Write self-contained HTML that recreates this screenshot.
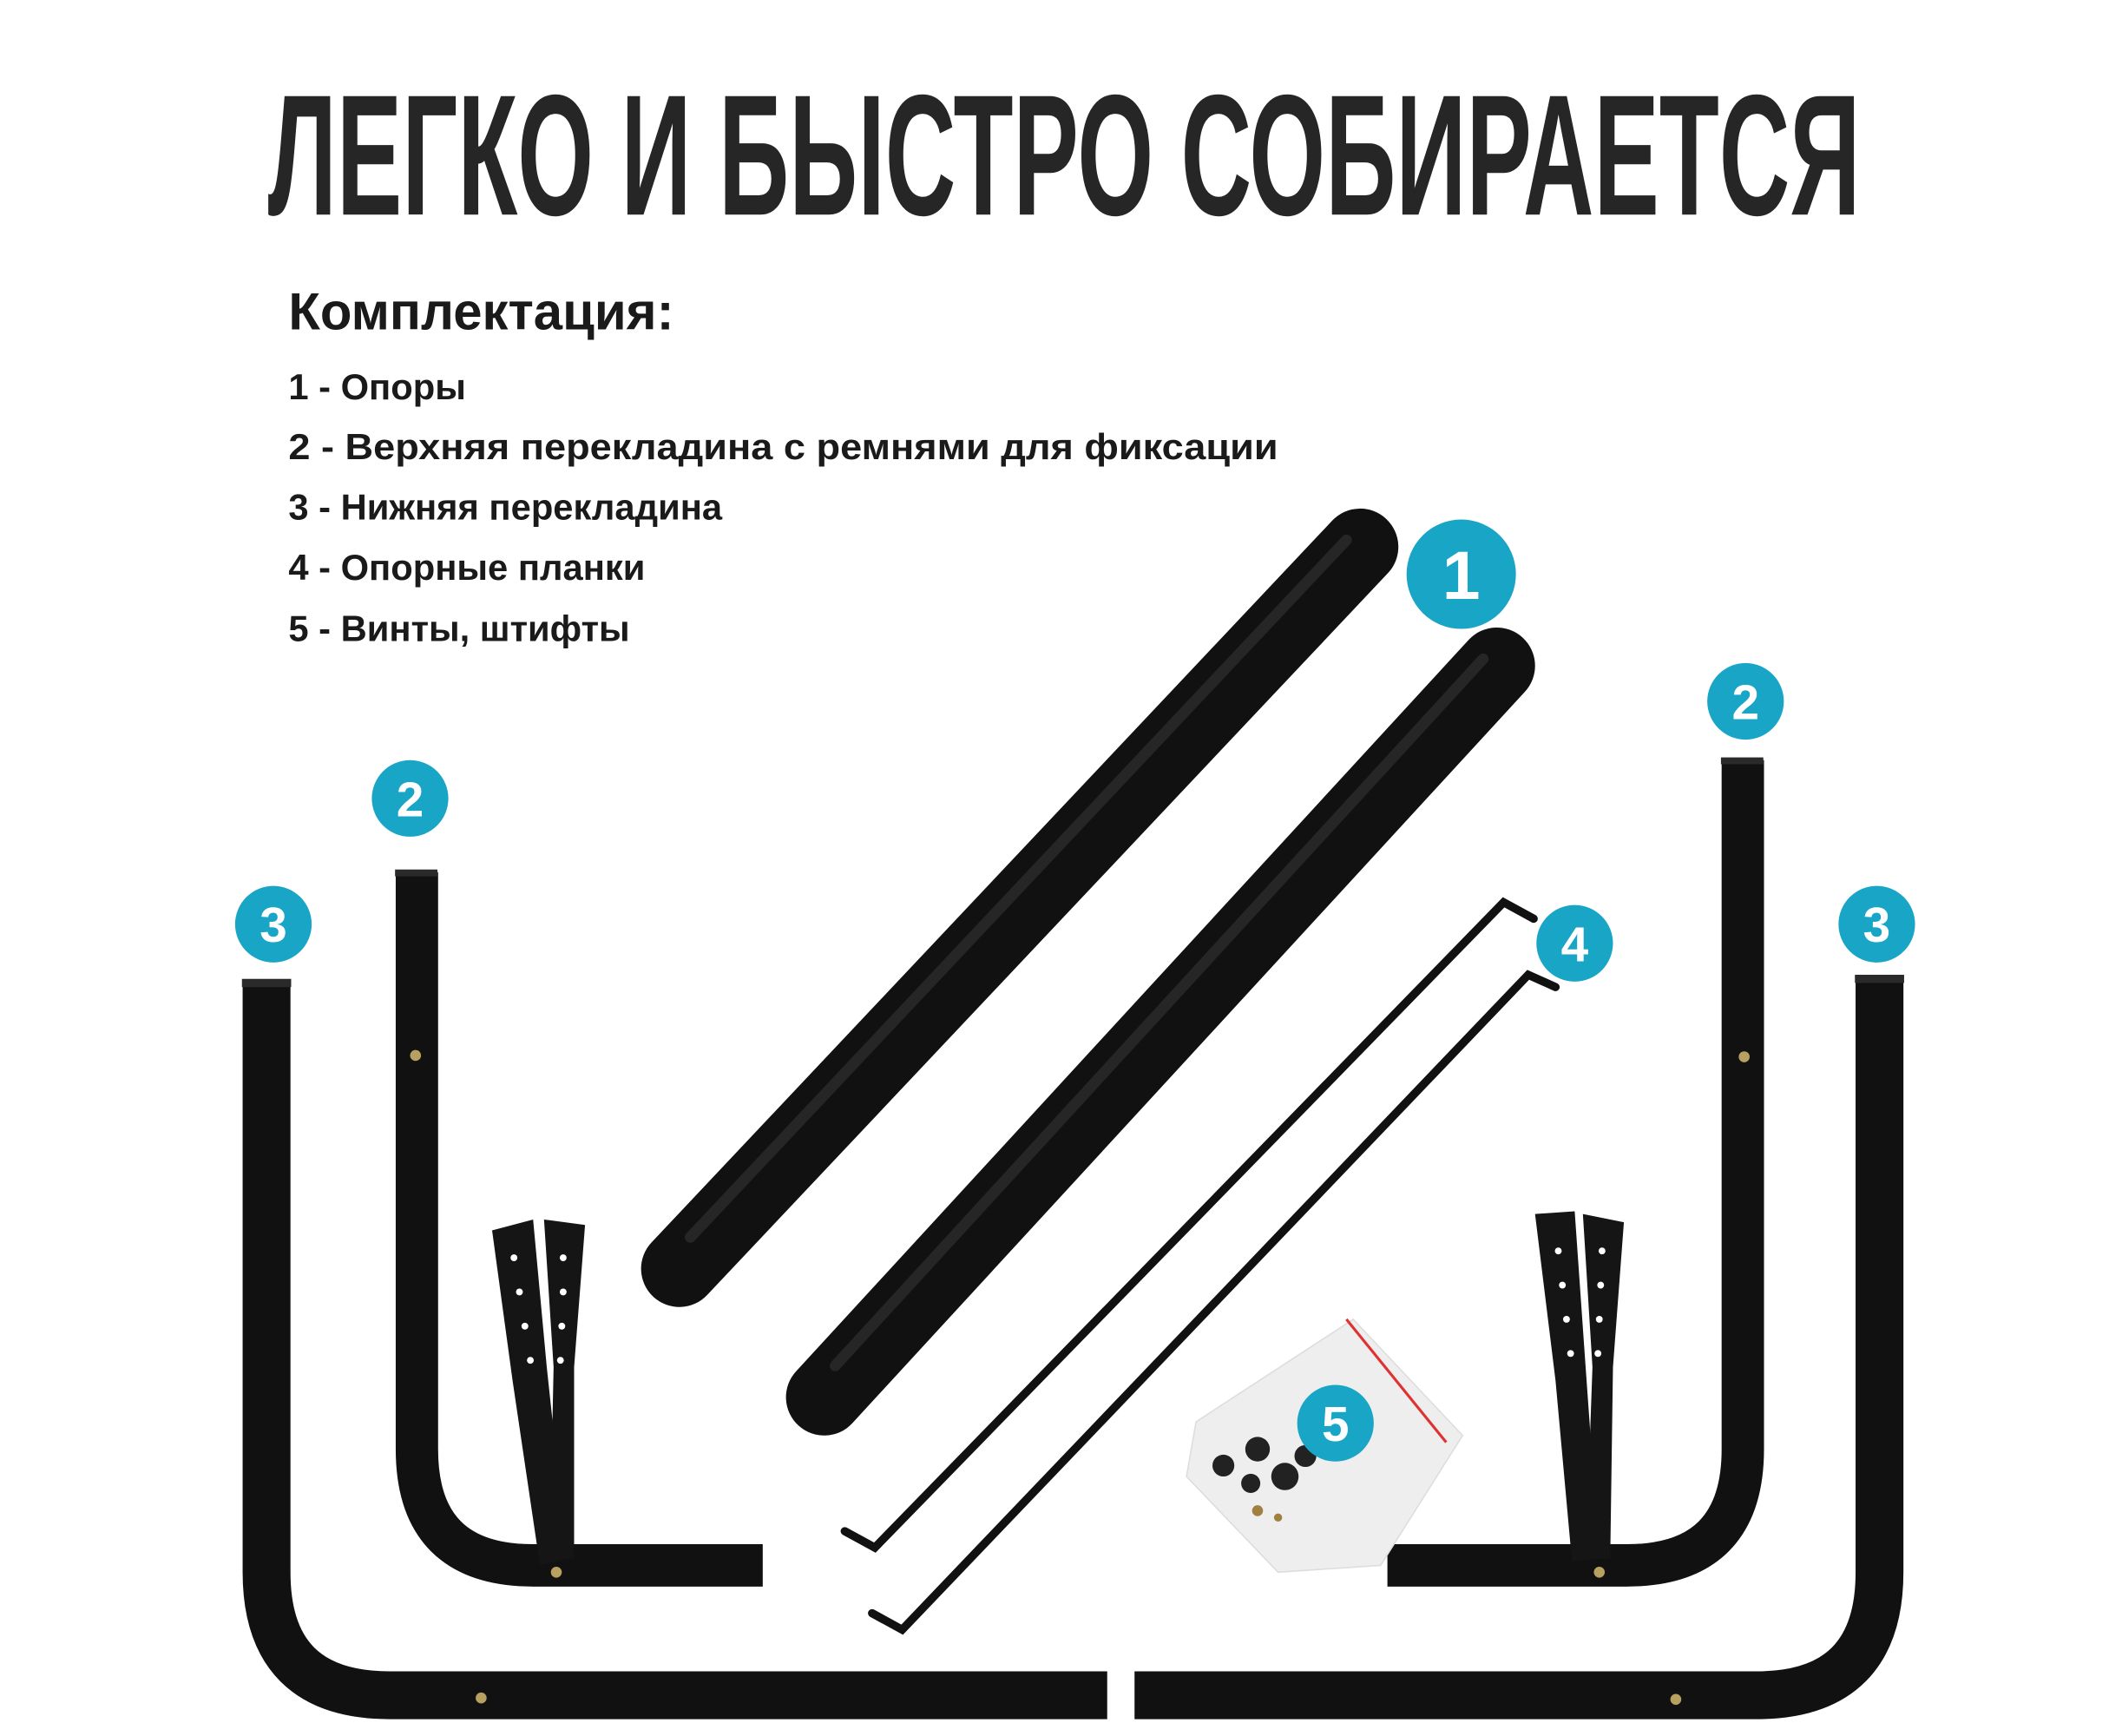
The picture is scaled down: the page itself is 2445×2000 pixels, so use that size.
<!DOCTYPE html>
<html><head><meta charset="utf-8"><style>
html,body{margin:0;padding:0;background:#fff;}
svg{display:block}
</style></head><body>
<svg width="2445" height="2000" viewBox="0 0 1552.4 1269.8" preserveAspectRatio="none" xmlns="http://www.w3.org/2000/svg">
<rect width="1552.4" height="1269.8" fill="#fff"/>
<text x="196" y="157" font-family="Liberation Sans, sans-serif" font-weight="bold" font-size="126" fill="#262626" textLength="1165" lengthAdjust="spacingAndGlyphs">ЛЕГКО И БЫСТРО СОБИРАЕТСЯ</text>
<g font-family="Liberation Sans, sans-serif" fill="#1a1a1a" font-weight="bold">
<text x="211" y="241" font-size="38">Комплектация:</text>
<text x="211" y="292" font-size="26.5">1 - Опоры</text>
<text x="211" y="336" font-size="26.5" textLength="724" lengthAdjust="spacingAndGlyphs">2 - Верхняя перекладина с ремнями для фиксации</text>
<text x="211" y="380" font-size="26.5">3 - Нижняя перекладина</text>
<text x="211" y="424" font-size="26.5">4 - Опорные планки</text>
<text x="211" y="469" font-size="26.5">5 - Винты, штифты</text>
</g>
<g stroke-linecap="round">
<line x1="497" y1="928" x2="995" y2="400" stroke="#111" stroke-width="56"/>
<line x1="603" y1="1022" x2="1095" y2="487" stroke="#111" stroke-width="56"/>
<line x1="505" y1="905" x2="985" y2="395" stroke="#262626" stroke-width="8"/>
<line x1="611" y1="999" x2="1085" y2="482" stroke="#262626" stroke-width="8"/>
</g>
<g fill="none" stroke="#111" stroke-width="6" stroke-linecap="round">
<path d="M618 1120 L640 1132 L1100 660 L1122 672"/>
<path d="M638 1180 L660 1192 L1118 713 L1138 722"/>
</g>
<g fill="none" stroke="#111" stroke-linejoin="round">
<path d="M195 718 L195 1150 Q195 1240 285 1240 L810 1240" stroke-width="35"/>
<path d="M305 638 L305 1060 Q305 1145 390 1145 L558 1145" stroke-width="31"/>
<path d="M1375 715 L1375 1150 Q1375 1240 1285 1240 L830 1240" stroke-width="35"/>
<path d="M1275 556 L1275 1060 Q1275 1145 1190 1145 L1015 1145" stroke-width="31"/>
</g>
<g fill="#151515">
<path d="M360 900 L390 892 L400 1000 L415 1140 L395 1145 L375 1010 Z"/>
<path d="M398 892 L428 896 L420 1000 L420 1140 L402 1140 L405 1000 Z"/>
<path d="M1123 888 L1152 886 L1160 1000 L1170 1140 L1150 1142 L1138 1010 Z"/>
<path d="M1158 888 L1188 894 L1180 1000 L1178 1140 L1160 1140 L1165 1000 Z"/>
</g>
<g fill="#fff">
<circle cx="376" cy="920" r="2.5"/><circle cx="380" cy="945" r="2.5"/><circle cx="384" cy="970" r="2.5"/><circle cx="388" cy="995" r="2.5"/>
<circle cx="412" cy="920" r="2.5"/><circle cx="412" cy="945" r="2.5"/><circle cx="411" cy="970" r="2.5"/><circle cx="410" cy="995" r="2.5"/>
<circle cx="1140" cy="915" r="2.5"/><circle cx="1143" cy="940" r="2.5"/><circle cx="1146" cy="965" r="2.5"/><circle cx="1149" cy="990" r="2.5"/>
<circle cx="1172" cy="915" r="2.5"/><circle cx="1171" cy="940" r="2.5"/><circle cx="1170" cy="965" r="2.5"/><circle cx="1169" cy="990" r="2.5"/>
</g>
<g fill="#b8a060">
<circle cx="304" cy="772" r="4"/><circle cx="352" cy="1242" r="4"/><circle cx="407" cy="1150" r="4"/>
<circle cx="1276" cy="773" r="4"/><circle cx="1226" cy="1243" r="4"/><circle cx="1170" cy="1150" r="4"/>
</g>
<g fill="#2a2a2a">
<rect x="177" y="716" width="36" height="6"/><rect x="289" y="636" width="31" height="5"/>
<rect x="1357" y="713" width="36" height="6"/><rect x="1259" y="554" width="31" height="5"/>
</g>
<path d="M875 1040 L990 965 L1070 1050 L1010 1145 L935 1150 L868 1080 Z" fill="#eeeeee" stroke="#ddd"/>
<line x1="985" y1="965" x2="1058" y2="1055" stroke="#d33" stroke-width="2"/>
<g fill="#222">
<circle cx="895" cy="1072" r="8"/><circle cx="920" cy="1060" r="9"/><circle cx="940" cy="1080" r="10"/><circle cx="915" cy="1085" r="7"/><circle cx="955" cy="1065" r="8"/>
</g>
<g fill="#a08040"><circle cx="920" cy="1105" r="4"/><circle cx="935" cy="1110" r="3"/></g>
<g font-family="Liberation Sans, sans-serif" font-weight="bold" fill="#fff" text-anchor="middle">
<circle cx="1069" cy="420" r="40" fill="#18a5c6"/><text x="1069" y="438" font-size="50">1</text>
<circle cx="300" cy="584" r="28" fill="#18a5c6"/><text x="300" y="597" font-size="36">2</text>
<circle cx="200" cy="676" r="28" fill="#18a5c6"/><text x="200" y="689" font-size="36">3</text>
<circle cx="1277" cy="513" r="28" fill="#18a5c6"/><text x="1277" y="526" font-size="36">2</text>
<circle cx="1152" cy="690" r="28" fill="#18a5c6"/><text x="1152" y="703" font-size="36">4</text>
<circle cx="1373" cy="676" r="28" fill="#18a5c6"/><text x="1373" y="689" font-size="36">3</text>
<circle cx="977" cy="1041" r="28" fill="#18a5c6"/><text x="977" y="1054" font-size="36">5</text>
</g>
</svg>
</body></html>
